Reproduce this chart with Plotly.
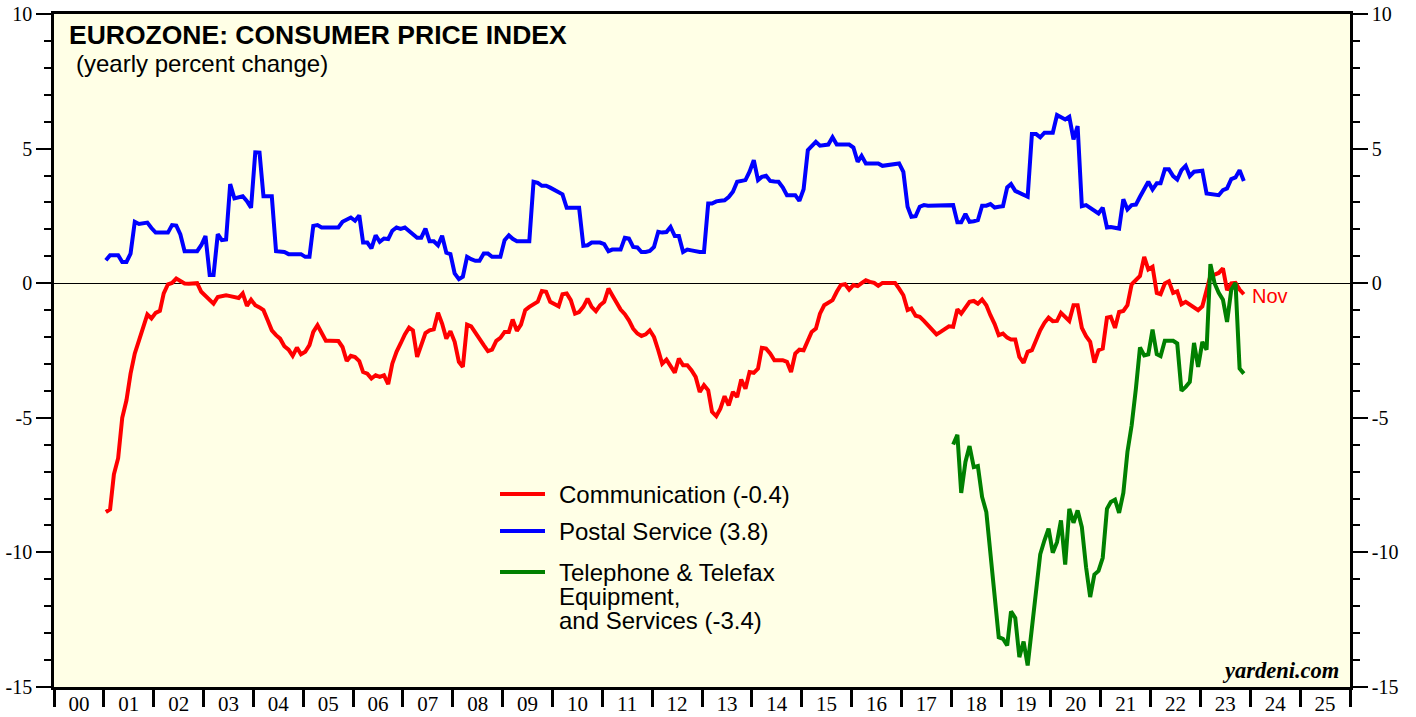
import pandas as pd
import plotly.graph_objects as go

# ---------------- data (monthly, yearly % change) ----------------
comm_start = "2001-01-01"
communication = [
    -8.5, -8.4, -7.1, -6.5, -5.0, -4.35, -3.36, -2.61, -2.12, -1.6, -1.16, -1.31,
    -1.10, -1.03, -0.38, -0.04, 0.01, 0.17, 0.10, -0.01, -0.02, -0.01, 0.0, -0.32,
    -0.48, -0.62, -0.76, -0.51, -0.48, -0.45, -0.48, -0.51, -0.55, -0.38, -0.84, -0.61,
    -0.82, -0.90, -1.0, -1.38, -1.75, -1.93, -2.06, -2.34, -2.47, -2.70, -2.39, -2.64,
    -2.55, -2.30, -1.81, -1.56, -1.87, -2.14, -2.14, -2.14, -2.15, -2.37, -2.89, -2.70,
    -2.74, -2.89, -3.30, -3.36, -3.54, -3.42, -3.48, -3.42, -3.75, -2.99, -2.55, -2.24,
    -1.9, -1.65, -1.75, -2.74, -2.24, -1.85, -1.75, -1.71, -1.10, -1.50, -2.06, -1.78,
    -2.18, -2.92, -3.11, -1.54, -1.60, -1.85, -2.05, -2.30, -2.52, -2.47, -2.14, -2.03,
    -1.81, -1.81, -1.35, -1.77, -1.54, -1.0, -0.88, -0.78, -0.69, -0.29, -0.32, -0.69,
    -0.76, -0.86, -0.41, -0.38, -0.63, -1.13, -1.07, -0.88, -0.57, -0.88, -1.04, -0.82,
    -0.69, -0.20, -0.45, -0.73, -0.98, -1.15, -1.38, -1.69, -1.87, -1.96, -1.90, -1.75,
    -2.0, -2.49, -2.99, -2.84, -3.11, -3.32, -2.80, -3.05, -3.05, -3.23, -3.48, -4.04,
    -3.79, -3.98, -4.78, -4.94, -4.66, -4.20, -4.54, -4.04, -4.23, -3.58, -3.92, -3.30,
    -3.33, -3.17, -2.40, -2.43, -2.61, -2.86, -2.86, -2.86, -2.92, -3.30, -2.61, -2.47,
    -2.49, -2.12, -1.81, -1.69, -1.13, -0.82, -0.73, -0.63, -0.32, -0.07, -0.04, -0.24,
    -0.07, -0.11, 0.0, 0.11, 0.05, 0.01, -0.10, 0.01, 0.01, 0.01, 0.01, -0.20,
    -0.45, -1.0, -0.94, -1.21, -1.25, -1.40, -1.56, -1.72, -1.90, -1.81, -1.72, -1.60,
    -1.62, -0.97, -1.13, -0.88, -0.69, -0.66, -0.76, -0.61, -0.82, -1.19, -1.52, -1.93,
    -1.87, -2.02, -2.09, -2.09, -2.74, -2.96, -2.55, -2.49, -2.09, -1.75, -1.47, -1.28,
    -1.41, -1.40, -1.10, -1.28, -1.40, -0.82, -0.82, -1.66, -1.97, -2.18, -2.95, -2.49,
    -2.43, -1.28, -1.25, -1.66, -1.07, -1.03, -0.82, -0.04, 0.14, 0.27, 0.98, 0.51,
    0.61, -0.36, -0.41, -0.01, 0.07, -0.36, -0.30, -0.78, -0.69, -0.78, -0.90, -1.0,
    -0.86, -0.20, 0.27, 0.32, 0.38, 0.55, -0.26, -0.01, 0.01, -0.24, -0.41,
]

postal_start = "2001-01-01"
postal = [
    0.85, 1.04, 1.04, 1.04, 0.79, 0.79, 1.10, 2.28, 2.20, 2.22, 2.25, 2.05,
    1.88, 1.88, 1.88, 1.88, 2.16, 2.14, 1.81, 1.19, 1.19, 1.19, 1.19, 1.41,
    1.75, 0.30, 0.30, 1.82, 1.60, 1.62, 3.68, 3.15, 3.20, 3.23, 3.05, 2.80,
    4.86, 4.85, 3.23, 3.23, 3.23, 1.19, 1.18, 1.16, 1.08, 1.08, 1.08, 1.08,
    0.98, 0.98, 2.13, 2.16, 2.07, 2.07, 2.07, 2.07, 2.07, 2.28, 2.35, 2.44,
    2.32, 2.52, 1.51, 1.51, 1.29, 1.78, 1.54, 1.66, 1.64, 1.95, 2.07, 2.02,
    2.07, 1.95, 1.82, 1.69, 1.69, 2.03, 1.56, 1.56, 1.41, 1.76, 1.13, 1.08,
    0.36, 0.15, 0.24, 0.98, 0.89, 0.83, 0.83, 1.10, 1.10, 0.98, 0.98, 0.98,
    1.60, 1.78, 1.65, 1.56, 1.56, 1.56, 1.56, 3.77, 3.73, 3.62, 3.62, 3.55,
    3.45, 3.36, 3.30, 2.80, 2.80, 2.80, 2.80, 1.39, 1.41, 1.51, 1.51, 1.51,
    1.45, 1.19, 1.25, 1.25, 1.25, 1.69, 1.66, 1.35, 1.33, 1.16, 1.16, 1.20,
    1.35, 1.91, 1.88, 1.90, 2.09, 1.75, 1.75, 1.16, 1.25, 1.22, 1.18, 1.16,
    1.16, 2.96, 2.96, 3.04, 3.06, 3.08, 3.20, 3.40, 3.77, 3.80, 3.83, 4.14,
    4.57, 3.83, 3.95, 3.99, 3.80, 3.78, 3.77, 3.56, 3.27, 3.27, 3.27, 3.06,
    3.49, 4.94, 5.07, 5.25, 5.11, 5.13, 5.15, 5.42, 5.15, 5.15, 5.15, 5.15,
    5.04, 4.51, 4.73, 4.45, 4.45, 4.45, 4.45, 4.36, 4.38, 4.40, 4.42, 4.45,
    4.14, 2.84, 2.47, 2.49, 2.84, 2.90, 2.88, 2.88, 2.88, 2.88, 2.88, 2.90,
    2.90, 2.26, 2.26, 2.57, 2.28, 2.30, 2.34, 2.88, 2.88, 2.94, 2.81, 2.84,
    2.86, 3.56, 3.68, 3.43, 3.35, 3.27, 3.21, 5.54, 5.54, 5.42, 5.59, 5.59,
    5.59, 6.25, 6.18, 6.08, 6.18, 5.34, 5.84, 2.86, 2.90, 2.81, 2.70, 2.59,
    2.81, 2.07, 2.09, 2.06, 2.03, 3.12, 2.74, 2.90, 2.92, 3.21, 3.52, 3.77,
    3.48, 3.71, 3.71, 4.23, 4.23, 3.98, 3.85, 4.20, 4.36, 3.98, 4.14, 4.16,
    4.18, 3.33, 3.31, 3.29, 3.27, 3.46, 3.52, 3.87, 3.93, 4.20, 3.80,
]

telephone_start = "2018-01-01"
telephone = [
    -5.99, -5.63, -7.79, -6.64, -6.05, -6.83, -6.79, -7.94, -8.50, -10.05, -11.66, -13.15,
    -13.21, -13.46, -12.19, -12.43, -13.89, -13.31, -14.20, -12.78, -11.41, -10.07, -9.55, -9.12,
    -10.01, -9.62, -8.81, -10.45, -8.38, -8.90, -8.44, -9.06, -10.55, -11.66, -10.82, -10.69,
    -10.20, -8.38, -8.13, -8.04, -8.53, -7.79, -6.27, -5.28, -3.92, -2.39, -2.68, -2.64,
    -1.72, -2.64, -2.71, -2.14, -2.14, -2.14, -2.24, -4.0, -3.85, -3.67, -2.22, -3.11,
    -2.18, -2.47, 0.71, -0.01, -0.36, -0.61, -1.44, -0.24, 0.01, -3.17, -3.36,
]

series_names = [
    "Communication (-0.4)",
    "Postal Service (3.8)",
    "Telephone & Telefax<br>Equipment,<br>and Services (-3.4)",
]
series_colors = ["#FF0000", "#0000FF", "#008000"]
year_range = ["2000-01-01", "2026-01-01"]
y_range = [-15, 10]
y_tickvals = [-15, -10, -5, 0, 5, 10]
y_ticktext = ["-15", "-10", "-5", "0", "5", "10"]
title_text = "EUROZONE: CONSUMER PRICE INDEX"
subtitle_text = "(yearly percent change)"
last_label = "Nov"
source_text = "yardeni.com"


def monthly_dates(start, n):
    return pd.date_range(start, periods=n, freq="MS") + pd.Timedelta(days=14)


# ---------------- layout geometry (window pixels) ----------------
W, H = 1416, 717
PL, PT, PR, PB = 54, 14, 1350, 687          # plot box
ML, MT, MR, MB = PL, PT, W - PR, H - PB
PW, PH = PR - PL, PB - PT


def px(x, y):
    return (x - PL) / PW, (PB - y) / PH


SERIF = "Liberation Serif, Times New Roman, serif"
SANS = "Liberation Sans, Arial, Helvetica, sans-serif"

fig = go.Figure()

d_comm = monthly_dates(comm_start, len(communication))
d_post = monthly_dates(postal_start, len(postal))
d_tel = monthly_dates(telephone_start, len(telephone))

LW = 4
fig.add_trace(go.Scatter(x=d_post, y=postal, mode="lines", name=series_names[1],
                         line=dict(color=series_colors[1], width=LW), showlegend=False))
fig.add_trace(go.Scatter(x=d_comm, y=communication, mode="lines", name=series_names[0],
                         line=dict(color=series_colors[0], width=LW), showlegend=False))
fig.add_trace(go.Scatter(x=d_tel, y=telephone, mode="lines", name=series_names[2],
                         line=dict(color=series_colors[2], width=LW), showlegend=False,
                         yaxis="y2"))

axis_font = dict(family=SERIF, size=20, color="black")
minor_ticks = dict(dtick=1, tick0=0, ticks="outside", ticklen=7, tickwidth=2, tickcolor="black")

fig.update_layout(
    width=W, height=H,
    margin=dict(l=ML, r=MR, t=MT, b=MB, pad=0, autoexpand=False),
    paper_bgcolor="white",
    plot_bgcolor="#FFFFE6",
    showlegend=False,
    xaxis=dict(
        type="date", range=year_range, showgrid=False, zeroline=False, automargin=False,
        showline=True, linecolor="black", linewidth=2.5, mirror=True,
        ticks="outside", ticklen=17, tickwidth=2.5, tickcolor="black",
        tick0="2000-01-01", dtick="M12", tickformat="%y",
        ticklabelmode="period", ticklabelstandoff=-21, ticklabeloverflow="allow",
        tickfont=dict(family=SERIF, size=21, color="black"),
    ),
    yaxis=dict(
        range=y_range, showgrid=False, automargin=False,
        zeroline=True, zerolinecolor="black", zerolinewidth=1.3,
        showline=True, linecolor="black", linewidth=2.5,
        ticks="outside", ticklen=15, tickwidth=2, tickcolor="black",
        tickmode="array", tickvals=y_tickvals, ticktext=y_ticktext, tickfont=axis_font,
        ticklabeloverflow="allow",
        minor=minor_ticks,
    ),
    yaxis2=dict(
        range=y_range, overlaying="y", side="right", showgrid=False, zeroline=False,
        automargin=False,
        showline=True, linecolor="black", linewidth=2.5,
        ticks="outside", ticklen=15, tickwidth=2, tickcolor="black",
        tickmode="array", tickvals=y_tickvals, ticktext=y_ticktext, tickfont=axis_font,
        ticklabeloverflow="allow",
        minor=minor_ticks,
    ),
)

annotations = []
tx, ty = px(67, 35)
annotations.append(dict(x=tx, y=ty, xref="paper", yref="paper", xanchor="left", yanchor="middle",
                        text=f"<b>{title_text}</b>", showarrow=False,
                        font=dict(family=SANS, size=26.5, color="black")))
sx, sy = px(74, 64)
annotations.append(dict(x=sx, y=sy, xref="paper", yref="paper", xanchor="left", yanchor="middle",
                        text=subtitle_text, showarrow=False,
                        font=dict(family=SANS, size=24, color="black")))
annotations.append(dict(x=d_comm[-1], y=communication[-1], xref="x", yref="y",
                        xanchor="left", yanchor="middle", xshift=6, yshift=-2,
                        text=last_label, showarrow=False,
                        font=dict(family=SANS, size=20, color=series_colors[0])))
yx, yy = px(1341, 670)
annotations.append(dict(x=yx, y=yy, xref="paper", yref="paper", xanchor="right", yanchor="middle",
                        text=f"<b><i>{source_text}</i></b>", showarrow=False,
                        font=dict(family=SERIF, size=22.5, color="black")))

# manual legend
shapes = []
legend_rows = [494, 531, 572]
order = [0, 1, 2]
for idx, ry in zip(order, legend_rows):
    x0, y0 = px(500, ry)
    x1, _ = px(545, ry)
    shapes.append(dict(type="line", xref="paper", yref="paper", x0=x0, x1=x1, y0=y0, y1=y0,
                       line=dict(color=series_colors[idx], width=4)))
    lines = series_names[idx].split("<br>")
    for k, ln in enumerate(lines):
        lx, ly = px(558, ry + k * 24)
        annotations.append(dict(x=lx, y=ly, xref="paper", yref="paper", xanchor="left",
                                yanchor="middle", text=ln, showarrow=False, borderpad=0,
                                font=dict(family=SANS, size=24, color="black")))

fig.update_layout(annotations=annotations, shapes=shapes)
fig.write_html("out.html",
               config={"displayModeBar": False},
               post_script="document.body.style.margin='0';document.body.style.overflow='hidden';")
